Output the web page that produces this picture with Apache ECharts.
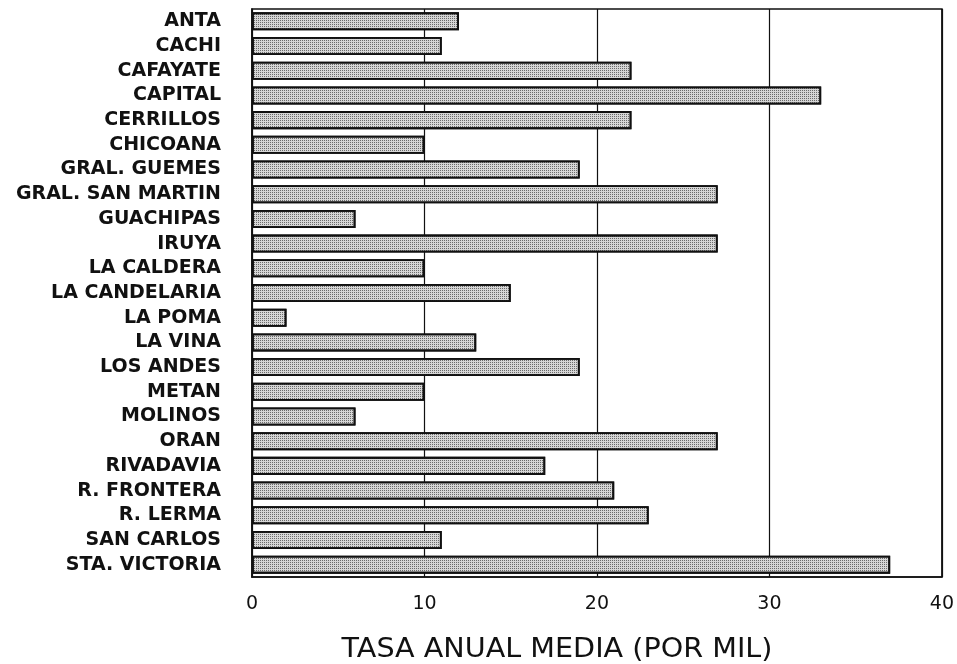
<!DOCTYPE html>
<html><head><meta charset="utf-8">
<script src="https://cdn.jsdelivr.net/npm/echarts@6/dist/echarts.min.js"></script>
<style>html,body{margin:0;padding:0;background:#fff}#c{width:957px;height:664px}</style>
</head><body><div id="c"></div>
<script>
var categories = ["ANTA","CACHI","CAFAYATE","CAPITAL","CERRILLOS","CHICOANA","GRAL. GUEMES","GRAL. SAN MARTIN","GUACHIPAS","IRUYA","LA CALDERA","LA CANDELARIA","LA POMA","LA VINA","LOS ANDES","METAN","MOLINOS","ORAN","RIVADAVIA","R. FRONTERA","R. LERMA","SAN CARLOS","STA. VICTORIA"];
var values = [12, 11, 22, 33, 22, 10, 19, 27, 6, 27, 10, 15, 2, 13, 19, 10, 6, 27, 17, 21, 23, 11, 37];
var xTicks = [0, 10, 20, 30, 40];
var axisTitle = "TASA ANUAL MEDIA (POR MIL)";

var chart = echarts.init(document.getElementById('c'), null, {renderer:'canvas'});
chart.setOption({
  animation: false,
  backgroundColor: '#fff',
  grid: {left: 252, right: 11, top: 9, bottom: 87, show: true, borderColor: '#111', borderWidth: 1.6, backgroundColor: 'transparent'},
  graphic: [{
    type: 'text', x: 557, y: 650, originX: 0, originY: 0, scaleX: 1.06,
    style: {text: axisTitle, fontFamily: 'DejaVu Sans', fontSize: 27, fill: '#111', align: 'center', verticalAlign: 'middle'}
  }],
  xAxis: {
    type: 'value', min: xTicks[0], max: xTicks[xTicks.length-1], interval: 10,
    axisLine: {show: true, lineStyle: {color: '#111', width: 1.6}},
    axisTick: {show: false},
    axisLabel: {margin: 18, fontFamily: 'DejaVu Sans', fontSize: 19, color: '#111',
      formatter: function(v){ return xTicks.indexOf(v) >= 0 ? String(v) : ''; }},
    splitLine: {show: true, lineStyle: {color: '#111', width: 1.2}}
  },
  yAxis: {
    type: 'category', data: categories, inverse: true,
    axisLine: {show: true, lineStyle: {color: '#111', width: 1.6}},
    axisTick: {show: false},
    axisLabel: {interval: 0, margin: 31, fontFamily: 'DejaVu Sans', fontWeight: 'bold', fontSize: 19, color: '#111'}
  },
  series: [{
    type: 'bar', data: values, barCategoryGap: '27%',
    itemStyle: {
      color: '#d6d6d6', borderColor: '#111', borderWidth: 1.8,
      decal: {symbol: 'rect', symbolSize: 1, color: 'rgba(0,0,0,0.5)', dashArrayX: [[1, 1]], dashArrayY: [1, 1], rotation: 0}
    }
  }]
});
</script></body></html>
